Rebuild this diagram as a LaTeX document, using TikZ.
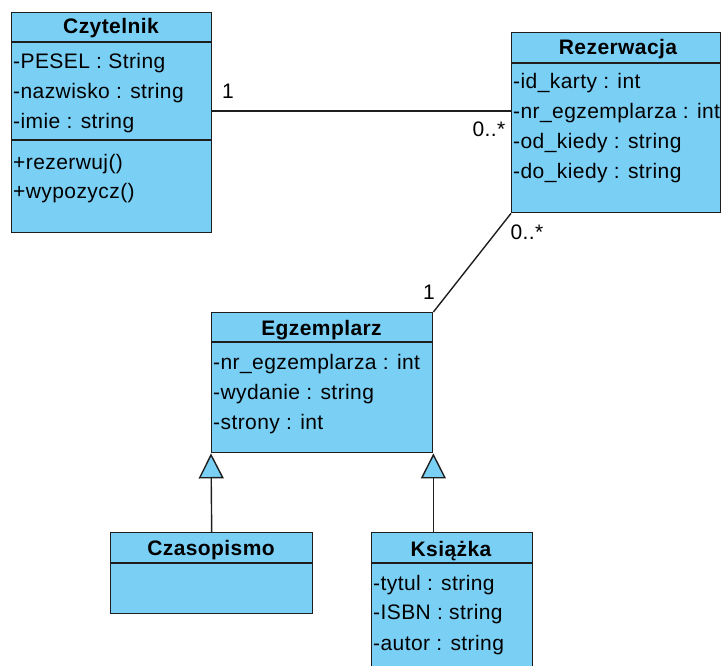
\documentclass[tikz,border=0pt]{standalone}
\usepackage{fontspec}
\setmainfont[LetterSpace=2]{Liberation Sans}
\usetikzlibrary{arrows.meta}
\definecolor{classfill}{RGB}{122,207,245}
\definecolor{classline}{RGB}{30,30,30}
\tikzset{
  umlclass/.style={draw=classline, fill=classfill, line width=1.4pt, rectangle,
    inner sep=0pt, anchor=north west},
  compartment/.style={draw=classline, line width=1.4pt},
  classtitle/.style={font=\fontsize{21}{25}\selectfont\bfseries, inner sep=0pt,
    text height=16pt, text depth=2pt},
  member/.style={font=\fontsize{21}{25}\selectfont, inner sep=0pt, anchor=west,
    text height=16pt, text depth=2pt},
  mult/.style={font=\fontsize{21}{25}\selectfont, inner sep=0pt,
    text height=16pt, text depth=2pt},
  assoc/.style={draw=classline, line width=1.4pt},
  inherit/.style={draw=classline, line width=1.4pt,
    -{Triangle[length=25pt, width=25pt, fill=classfill]}},
}
\begin{document}
\begin{tikzpicture}[x=1pt, y=-1pt]
\useasboundingbox (0,0) rectangle (721,666);

% class boxes
\node[umlclass, minimum width=200pt, minimum height=220pt] (czyt) at (11,12) {};
\node[umlclass, minimum width=209pt, minimum height=180pt] (rez) at (511,32) {};
\node[umlclass, minimum width=221pt, minimum height=140pt] (egz) at (211,312) {};
\node[umlclass, minimum width=202pt, minimum height=81pt] (czas) at (110,532) {};
\node[umlclass, minimum width=161pt, minimum height=150pt] (ksi) at (371,532) {};

% compartment separators
\draw[compartment] (czyt.west |- 0,42) -- (czyt.east |- 0,42);
\draw[compartment] (czyt.west |- 0,140) -- (czyt.east |- 0,140);
\draw[compartment] (rez.west |- 0,63) -- (rez.east |- 0,63);
\draw[compartment] (egz.west |- 0,342) -- (egz.east |- 0,342);
\draw[compartment] (czas.west |- 0,563) -- (czas.east |- 0,563);
\draw[compartment] (ksi.west |- 0,563) -- (ksi.east |- 0,563);

% Czytelnik
\node[classtitle] (czytT) at (111,27) {Czytelnik};
\node[member] (czyt1) at (13,62) {-PESEL : String};
\node[member] (czyt2) at (13,92) {-nazwisko : string};
\node[member] (czyt3) at (13,122) {-imie : string};
\node[member] (czyt4) at (13,163) {+rezerwuj()};
\node[member] (czyt5) at (13,192) {+wypozycz()};

% Rezerwacja
\node[classtitle] (rezT) at (618,48) {Rezerwacja};
\node[member] (rez1) at (513,82) {-id\_karty : int};
\node[member] (rez2) at (513,112) {-nr\_egzemplarza : int};
\node[member] (rez3) at (513,142) {-od\_kiedy : string};
\node[member] (rez4) at (513,172) {-do\_kiedy : string};

% Egzemplarz
\node[classtitle] (egzT) at (321.5,328) {Egzemplarz};
\node[member] (egz1) at (213,362) {-nr\_egzemplarza : int};
\node[member] (egz2) at (213,392) {-wydanie : string};
\node[member] (egz3) at (213,422) {-strony : int};

% Czasopismo
\node[classtitle] (czasT) at (211,548) {Czasopismo};

% Książka
\node[classtitle] (ksiT) at (451,549) {Książka};
\node[member] (ksi1) at (373,583) {-tytul : string};
\node[member] (ksi2) at (373,612) {-ISBN : string};
\node[member] (ksi3) at (373,643) {-autor : string};

% associations
\draw[assoc] (czyt.east |- 0,111) -- (rez.west |- 0,111);
\draw[assoc] (rez.south west) -- (egz.north east);
\node[mult] (m1) at (228,92) {1};
\node[mult] (m2) at (489,130) {0..*};
\node[mult] (m3) at (527,233) {0..*};
\node[mult] (m4) at (429,292) {1};

% generalizations
\draw[inherit] (czas.north) -- (egz.south west);
\draw[inherit] (ksi.north -| egz.south east) -- (egz.south east);
\end{tikzpicture}
\end{document}
